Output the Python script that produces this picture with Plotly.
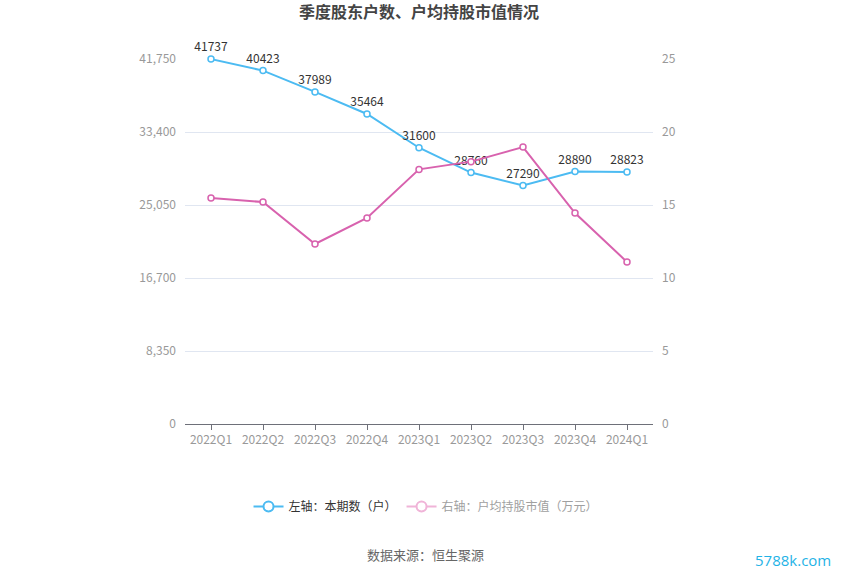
import plotly.graph_objects as go

categories = ["2022Q1", "2022Q2", "2022Q3", "2022Q4", "2023Q1", "2023Q2", "2023Q3", "2023Q4", "2024Q1"]
holders = [41737, 40423, 37989, 35464, 31600, 28760, 27290, 28890, 28823]
avg_value = [15.48, 15.2, 12.33, 14.11, 17.44, 17.97, 18.97, 14.45, 11.1]
left_ticks = [0, 8350, 16700, 25050, 33400, 41750]
right_ticks = [0, 5, 10, 15, 20, 25]

BLUE = "#4cbbf2"
PINK = "#d862ae"
PINK_LIGHT = "#f0b4d8"
FONT = "Noto Sans CJK SC"

fig = go.Figure()
fig.add_trace(go.Scatter(
    x=categories, y=holders, name="左轴：本期数（户）", showlegend=False,
    mode="lines+markers+text", text=[str(v) for v in holders],
    textposition="top center", textfont=dict(size=12, color="#333333", family=FONT),
    line=dict(color=BLUE, width=2),
    marker=dict(symbol="circle", size=6, color="white", line=dict(color=BLUE, width=1.5)),
    cliponaxis=False,
))
fig.add_trace(go.Scatter(
    x=categories, y=avg_value, name="右轴：户均持股市值（万元）", showlegend=False,
    mode="lines+markers", yaxis="y2",
    line=dict(color=PINK, width=2),
    marker=dict(symbol="circle", size=6, color="white", line=dict(color=PINK, width=1.5)),
    cliponaxis=False,
))
# legend entries
fig.add_trace(go.Scatter(
    x=[None], y=[None], name="左轴：本期数（户）", mode="lines+markers",
    line=dict(color=BLUE, width=2),
    marker=dict(symbol="circle", size=10, color="white", line=dict(color=BLUE, width=2)),
))
fig.add_trace(go.Scatter(
    x=[None], y=[None], name='<span style="color:#a0a0a0">右轴：户均持股市值（万元）</span>', mode="lines+markers",
    line=dict(color=PINK_LIGHT, width=2),
    marker=dict(symbol="circle", size=10, color="white", line=dict(color=PINK_LIGHT, width=2)),
))

fig.update_layout(
    width=850, height=575,
    margin=dict(l=185, r=197, t=59, b=151),
    plot_bgcolor="white", paper_bgcolor="white",
    font=dict(family=FONT, size=12, color="#999999"),
    title=dict(text="<b>季度股东户数、户均持股市值情况</b>", x=0.5, xref="paper", y=0.979, yanchor="middle",
               font=dict(size=16, color="#444444", family=FONT)),
    xaxis=dict(type="category", showgrid=False, showline=True, linecolor="#6e7079", linewidth=1,
               ticks="outside", ticklen=5, tickcolor="#6e7079", tickfont=dict(size=12, color="#999999"),
               range=[-0.5, 8.5]),
    yaxis=dict(range=[0, 41750], tickvals=left_ticks, ticktext=[f"{v:,}" for v in left_ticks],
               showgrid=True, gridcolor="#e0e6f1", zeroline=False, showline=False,
               tickfont=dict(size=12, color="#999999"), ticks="", ticklabelstandoff=8),
    yaxis2=dict(range=[0, 25], tickvals=right_ticks, overlaying="y", side="right",
                showgrid=False, zeroline=False, showline=False,
                tickfont=dict(size=12, color="#999999"), ticklabelstandoff=8),
    showlegend=True,
    legend=dict(orientation="h", x=0.515, xanchor="center", y=-0.226, yanchor="middle",
                font=dict(size=12, color="#333333", family=FONT), itemwidth=30),
)
fig.add_annotation(text="数据来源：恒生聚源", xref="paper", yref="paper",
                   x=(425 - 185) / 468, y=-(554 - 424) / 365, xanchor="center", yanchor="middle",
                   showarrow=False, font=dict(size=13, color="#666666", family=FONT))
fig.add_annotation(text="5788k.com", xref="paper", yref="paper",
                   x=(793 - 185) / 468, y=-(560 - 424) / 365, xanchor="center", yanchor="middle",
                   showarrow=False, font=dict(size=15, color="#1fb3e6", family="Open Sans"))

fig.write_html("out.html")
